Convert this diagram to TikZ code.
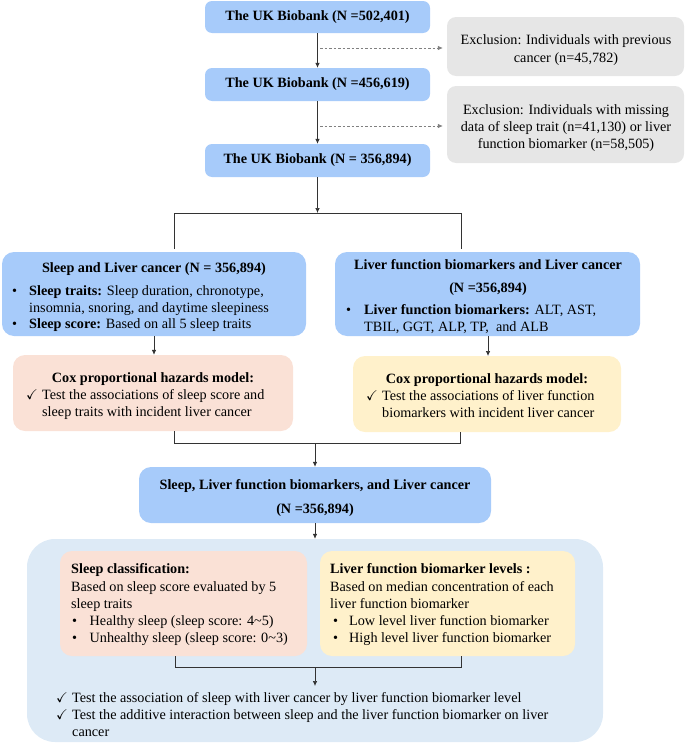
\documentclass[tikz,border=0pt]{standalone}
\usepackage{amssymb}
\usepackage{fontspec}
\setmainfont{Liberation Serif}
\newfontfamily\tnr{Liberation Serif}
\usetikzlibrary{arrows.meta,calc}
\definecolor{ukblue}{HTML}{A7CBFA}
\definecolor{exgray}{HTML}{E6E6E6}
\definecolor{pinkbox}{HTML}{FAE1D6}
\definecolor{yelbox}{HTML}{FFF1CB}
\definecolor{bgblue}{HTML}{DDEAF6}
\definecolor{linec}{HTML}{333333}
\newcommand{\fsz}{\tnr\fontsize{14.2}{17}\selectfont}
\begin{document}
\begin{tikzpicture}[x=1pt,y=-1pt,
  box/.style={rectangle, rounded corners=7pt, draw=none, inner sep=0pt},
  bluebox/.style={box, fill=ukblue},
  graybox/.style={box, fill=exgray, rounded corners=9pt},
  pbox/.style={box, fill=pinkbox, rounded corners=12pt},
  ybox/.style={box, fill=yelbox, rounded corners=12pt},
  txt/.style={anchor=base west, inner sep=0pt, font=\fsz, text=black},
  ctxt/.style={anchor=base, inner sep=0pt, font=\fsz, text=black},
  btxt/.style={ctxt, font=\fsz\bfseries},
  ln/.style={draw=linec, line width=0.7pt},
  arr/.style={ln, -{Latex[length=5pt,width=4.5pt]}},
  dasharr/.style={draw=gray, line width=0.7pt, dash pattern=on 2.5pt off 2pt, -{Latex[length=5pt,width=4.5pt]}}
]
\useasboundingbox (0,0) rectangle (685,744);

% top boxes
\node[bluebox, minimum width=225, minimum height=32] (b1) at (317.5,17) {};
\node[btxt, anchor=center] (b1t) at (b1) {The UK Biobank (N =502,401)};
\node[bluebox, minimum width=225, minimum height=33] (b2) at (317.5,84.5) {};
\node[btxt, anchor=center] (b2t) at (b2) {The UK Biobank (N =456,619)};
\node[bluebox, minimum width=225, minimum height=33] (b3) at (317.5,160.5) {};
\node[btxt, anchor=center] (b3t) at (b3) {The UK Biobank (N = 356,894)};

% exclusion boxes
\node[graybox, minimum width=237, minimum height=59] (e1) at (565.5,46.5) {};
\node[ctxt] (e1a) at (566,44) {Exclusion: Individuals with previous};
\node[ctxt] (e1b) at (566,62) {cancer (n=45,782)};
\node[graybox, minimum width=237, minimum height=77] (e2) at (565.5,124.5) {};
\node[ctxt] (e2a) at (566,114) {Exclusion: Individuals with missing};
\node[ctxt] (e2b) at (566,131) {data of sleep trait (n=41,130) or liver};
\node[ctxt] (e2c) at (566,148) {function biomarker (n=58,505)};

\draw[arr] (b1.south) -- (b2.north);
\draw[arr] (b2.south) -- (b3.north);
\coordinate (d1) at (320,48);
\coordinate (d2) at (320,126);
\draw[dasharr, shorten >=4pt] (d1) -- (d1 -| e1.west);
\draw[dasharr, shorten >=4pt] (d2) -- (d2 -| e2.west);

% split
\coordinate (s0) at (317.5,213);
\coordinate (sl) at (174,213);
\coordinate (sr) at (461,213);
\coordinate (slb) at (174,249);
\coordinate (srb) at (461,249);
\draw[arr] (b3.south) -- (s0);
\draw[ln] (slb) -- (sl) -- (sr) -- (srb);

% second level
\node[bluebox, rounded corners=12pt, minimum width=304, minimum height=84] (A) at (154,294) {};
\node[btxt] (At) at (154,272) {Sleep and Liver cancer (N = 356,894)};
\node[txt] (Ab1) at (12,295) {\textbullet};
\node[txt] (Aa) at (29,295) {\textbf{Sleep traits:} Sleep duration, chronotype,};
\node[txt] (Ab) at (29,312) {insomnia, snoring, and daytime sleepiness};
\node[txt] (Ab2) at (12,328) {\textbullet};
\node[txt] (Ac) at (29,328) {\textbf{Sleep score:} Based on all 5 sleep traits};

\node[bluebox, rounded corners=12pt, minimum width=305, minimum height=84] (B) at (487.5,294) {};
\node[btxt] (Bt) at (488,269) {Liver function biomarkers and Liver cancer};
\node[btxt] (Bn) at (488,292) {(N =356,894)};
\node[txt] (Bb1) at (346,314) {\textbullet};
\node[txt] (Ba) at (364,314) {\textbf{Liver function biomarkers:} ALT, AST,};
\node[txt] (Bb) at (364,331) {TBIL, GGT, ALP, TP, \ and ALB};

% cox boxes
\node[pbox, minimum width=280, minimum height=76] (C) at (153,393) {};
\node[btxt] (Ct) at (153,382) {Cox proportional hazards model:};
\node[txt] (Cc) at (26,399) {$\checkmark$};
\node[txt] (Ca) at (42,399) {Test the associations of sleep score and};
\node[txt] (Cb) at (42,416) {sleep traits with incident liver cancer};

\node[ybox, minimum width=268, minimum height=76] (D) at (487,394) {};
\node[btxt] (Dt) at (487,383) {Cox proportional hazards model:};
\node[txt] (Dc) at (366,400) {$\checkmark$};
\node[txt] (Da) at (382,400) {Test the associations of liver function};
\node[txt] (Db) at (382,417) {biomarkers with incident liver cancer};

\draw[arr] (A.south) -- (A.south |- C.north);
\coordinate (Bs) at (488,336);
\coordinate (Dn) at (488,356);
\draw[arr] (Bs) -- (Dn);

% join
\coordinate (jl) at (174,443);
\coordinate (jr) at (460,443);
\coordinate (jm) at (315,443);
\draw[ln] (174,431) -- (jl) -- (jr) -- (460,432);

% mid box
\node[bluebox, rounded corners=12pt, minimum width=352, minimum height=56] (E) at (315,495) {};
\node[btxt] (Et) at (315,489) {Sleep, Liver function biomarkers, and Liver cancer};
\node[btxt] (En) at (315,513) {(N =356,894)};
\draw[arr] (jm) -- (E.north);

% big region
\node[box, fill=bgblue, rounded corners=28pt, minimum width=576, minimum height=203] (F) at (315,640.5) {};
\draw[arr] (E.south) -- (F.north);

\node[pbox, minimum width=247, minimum height=105] (G) at (183.5,603.5) {};
\node[txt] (Gt) at (71,573) {\textbf{Sleep classification:}};
\node[txt] (Ga) at (71,591) {Based on sleep score evaluated by 5};
\node[txt] (Gb) at (71,608) {sleep traits};
\node[txt] (Gd1) at (72,625) {\textbullet};
\node[txt] (Gc) at (89.5,625) {Healthy sleep (sleep score: 4\textasciitilde5)};
\node[txt] (Gd2) at (72,642) {\textbullet};
\node[txt] (Gd) at (89.5,642) {Unhealthy sleep (sleep score: 0\textasciitilde3)};

\node[ybox, minimum width=255, minimum height=105] (H) at (447.5,603.5) {};
\node[txt] (Ht) at (330,573) {\textbf{Liver function biomarker levels :}};
\node[txt] (Ha) at (330,591) {Based on median concentration of each};
\node[txt] (Hb) at (330,608) {liver function biomarker};
\node[txt] (Hd1) at (333,625) {\textbullet};
\node[txt] (Hc) at (349,625) {Low level liver function biomarker};
\node[txt] (Hd2) at (333,642) {\textbullet};
\node[txt] (Hd) at (349,642) {High level liver function biomarker};

\coordinate (kl) at (175,667);
\coordinate (kr) at (461,667);
\coordinate (km) at (315,667);
\coordinate (kend) at (315,686);
\draw[ln] (175,656) -- (kl) -- (kr) -- (461,656);
\draw[arr] (km) -- (kend);

\node[txt] (K1c) at (56,702) {$\checkmark$};
\node[txt] (K1) at (72,702) {Test the association of sleep with liver cancer by liver function biomarker level};
\node[txt] (K2c) at (56,719) {$\checkmark$};
\node[txt] (K2) at (72,719) {Test the additive interaction between sleep and the liver function biomarker on liver};
\node[txt] (K3) at (72,736) {cancer};
\end{tikzpicture}
\end{document}
